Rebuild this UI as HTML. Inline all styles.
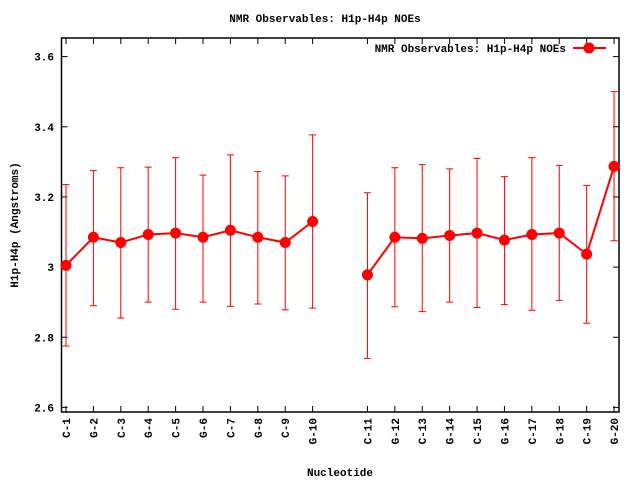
<!DOCTYPE html>
<html><head><meta charset="utf-8"><style>
html,body{margin:0;padding:0;background:#fff;}
svg{display:block;font-family:"Liberation Mono",monospace;font-weight:bold;font-size:11px;}
</style></head><body>
<svg id="chart" width="640" height="480" xmlns="http://www.w3.org/2000/svg">
<rect width="640" height="480" fill="#fff"/>
<text x="325" y="22" text-anchor="middle">NMR Observables: H1p-H4p NOEs</text>
<text transform="translate(18,225) rotate(-90)" text-anchor="middle">H1p-H4p (Angstroms)</text>
<text x="340" y="476" text-anchor="middle">Nucleotide</text>
<g id="axes"></g>
<g id="series"></g>
<g>
<text x="566" y="52" text-anchor="end">NMR Observables: H1p-H4p NOEs</text>
<line x1="573" y1="48" x2="606" y2="48" stroke="#f00" stroke-width="2"/>
<circle cx="589" cy="48" r="5.5" fill="#f00"/>
</g>
</svg>
<script>
const categories=["C-1","G-2","C-3","G-4","C-5","G-6","C-7","G-8","C-9","G-10","C-11","G-12","C-13","G-14","C-15","G-16","C-17","G-18","C-19","G-20"];
const xPositions=[1,2,3,4,5,6,7,8,9,10,12,13,14,15,16,17,18,19,20,21];
const means=[3.005,3.085,3.07,3.093,3.097,3.085,3.105,3.085,3.07,3.13,2.978,3.085,3.082,3.09,3.097,3.077,3.093,3.097,3.037,3.287];
const lows=[2.775,2.89,2.855,2.90,2.88,2.90,2.888,2.895,2.878,2.883,2.74,2.887,2.873,2.90,2.885,2.893,2.877,2.905,2.84,3.075];
const highs=[3.235,3.275,3.283,3.285,3.312,3.262,3.32,3.272,3.26,3.377,3.212,3.283,3.292,3.28,3.31,3.258,3.312,3.29,3.233,3.50];
const yTicks=["2.6","2.8","3","3.2","3.4","3.6"];
const segments=[[0,10],[10,20]];

const L=61.5,R=619,T=38,B=412;
const xMin=0.836,xMax=21.18,yMin=2.587,yMax=3.653;
const X=v=>L+(v-xMin)/(xMax-xMin)*(R-L);
const Y=v=>B-(v-yMin)/(yMax-yMin)*(B-T);
const NS="http://www.w3.org/2000/svg";
function mk(tag,attrs,parent){const e=document.createElementNS(NS,tag);for(const k in attrs)e.setAttribute(k,attrs[k]);parent.appendChild(e);return e;}
const axes=document.getElementById('axes');
const ser=document.getElementById('series');
const frame=mk('rect',{x:L,y:T,width:R-L,height:B-T,fill:'none',stroke:'#000','stroke-width':1.5},axes);


yTicks.forEach(t=>{const y=Y(parseFloat(t));
 const a=mk('line',{x1:L,y1:y,x2:L+6,y2:y,stroke:'#000'},axes);
 
 
 const b=mk('line',{x1:R,y1:y,x2:R-6,y2:y,stroke:'#000'},axes);
 
 
 const tx=mk('text',{x:54,y:y+4,'text-anchor':'end'},axes);tx.textContent=t;
 
 
});
categories.forEach((c,i)=>{const x=X(xPositions[i]);
 const a=mk('line',{x1:x,y1:B,x2:x,y2:B-6,stroke:'#000'},axes);
 
 
 const b=mk('line',{x1:x,y1:T,x2:x,y2:T+6,stroke:'#000'},axes);
 
 
 const tx=mk('text',{transform:`translate(${x+4},${B+6}) rotate(-90)`,'text-anchor':'end'},axes);tx.textContent=c;
 
 
});
segments.forEach(([s,e])=>{const pts=[];for(let i=s;i<e;i++)pts.push(X(xPositions[i])+','+Y(means[i]));
 const pl=mk('polyline',{points:pts.join(' '),fill:'none',stroke:'#f00','stroke-width':2},ser);
 
 
});
categories.forEach((c,i)=>{const x=X(xPositions[i]);
 const eb=mk('path',{d:`M${x},${Y(lows[i])}V${Y(highs[i])}M${x-3.5},${Y(lows[i])}h7M${x-3.5},${Y(highs[i])}h7`,stroke:'#f00','stroke-width':1,fill:'none'},ser);
 
 
 const pt=mk('circle',{cx:x,cy:Y(means[i]),r:5.5,fill:'#f00'},ser);
 
 
});
</script>
</body></html>
